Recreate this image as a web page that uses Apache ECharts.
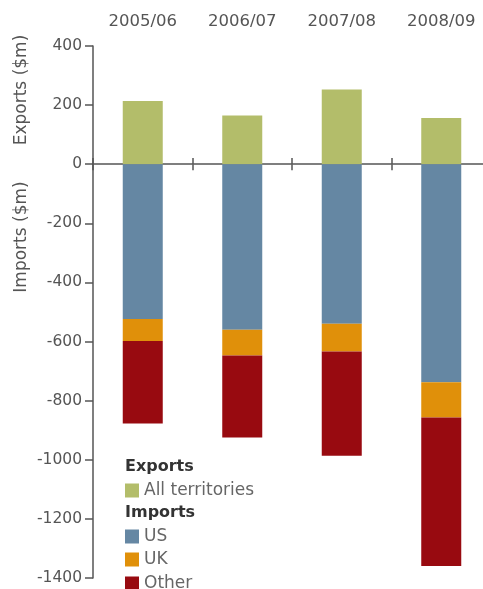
<!DOCTYPE html>
<html>
<head>
<meta charset="utf-8">
<script src="https://cdn.jsdelivr.net/npm/echarts@6/dist/echarts.min.js"></script>
<style>
html,body{margin:0;padding:0;background:#fff;overflow:hidden;}
#chart{width:491px;height:589px;}
</style>
</head>
<body>
<div id="chart"></div>
<script>
const categories = ['2005/06', '2006/07', '2007/08', '2008/09'];
const exportsAll = [214, 165, 253, 156];
const importsUS = [-524, -560, -540, -738];
const importsUK = [-74, -87, -94, -119];
const importsOther = [-279, -278, -352, -502];
const yTicks = { min: -1400, max: 400, interval: 200 };

const FONT = 'DejaVu Sans';
const chart = echarts.init(document.getElementById('chart'));
const axisColor = '#555';
const textColor = '#555';

function legendItem(name, top) {
  return {
    data: [name], left: 125, top: top, orient: 'vertical',
    itemWidth: 14, itemHeight: 14, itemGap: 5,
    icon: 'rect', padding: 0,
    textStyle: { fontFamily: FONT, fontSize: 17, color: '#666' }
  };
}

const option = {
  animation: false,
  backgroundColor: '#fff',
  grid: { left: 93, right: 0, top: 46, bottom: 11, containLabel: false },
  legend: [
    legendItem('All territories', 482),
    legendItem('US', 528),
    legendItem('UK', 551),
    legendItem('Other', 575)
  ],
  graphic: [
    { type: 'text', left: 125, top: 459, style: { text: 'Exports', font: 'bold 16px "DejaVu Sans"', fill: '#333' } },
    { type: 'text', left: 125, top: 505, style: { text: 'Imports', font: 'bold 16px "DejaVu Sans"', fill: '#333' } },
    { type: 'text', x: 22, y: 90, rotation: Math.PI / 2, style: { text: 'Exports ($m)', font: '17px "DejaVu Sans"', fill: textColor, align: 'center', verticalAlign: 'middle' } },
    { type: 'text', x: 22, y: 237, rotation: Math.PI / 2, style: { text: 'Imports ($m)', font: '17px "DejaVu Sans"', fill: textColor, align: 'center', verticalAlign: 'middle' } }
  ],
  xAxis: [
    {
      type: 'category', data: categories, position: 'bottom',
      axisLine: { onZero: true, lineStyle: { color: axisColor, width: 1.5 } },
      axisTick: { show: true, length: 6, lineStyle: { color: axisColor, width: 1.5 } },
      axisLabel: { show: false }
    },
    {
      type: 'category', data: categories, position: 'top',
      axisLine: { show: false, onZero: false },
      axisTick: { show: false },
      axisLabel: { show: true, margin: 16, fontFamily: FONT, fontSize: 16.5, color: textColor }
    },
    {
      type: 'category', data: categories, position: 'top', offset: -118,
      axisLine: { show: false, onZero: false },
      axisTick: { show: true, length: 6, lineStyle: { color: axisColor, width: 1.5 } },
      axisLabel: { show: false }
    }
  ],
  yAxis: {
    type: 'value', min: yTicks.min, max: yTicks.max, interval: yTicks.interval,
    axisLine: { show: true, lineStyle: { color: axisColor, width: 1.5 } },
    axisTick: { show: true, length: 8, lineStyle: { color: axisColor, width: 1.5 } },
    axisLabel: { margin: 11, fontFamily: FONT, fontSize: 15.5, color: textColor, formatter: function (v) { return String(v); } },
    splitLine: { show: false }
  },
  series: [
    { name: 'All territories', type: 'bar', stack: 'total', data: exportsAll, barWidth: 40, itemStyle: { color: '#b3bd6a' } },
    { name: 'US', type: 'bar', stack: 'total', data: importsUS, barWidth: 40, itemStyle: { color: '#6587a3' } },
    { name: 'UK', type: 'bar', stack: 'total', data: importsUK, barWidth: 40, itemStyle: { color: '#e0900a' } },
    { name: 'Other', type: 'bar', stack: 'total', data: importsOther, barWidth: 40, itemStyle: { color: '#980a10' } }
  ]
};
chart.setOption(option);
</script>
</body>
</html>
